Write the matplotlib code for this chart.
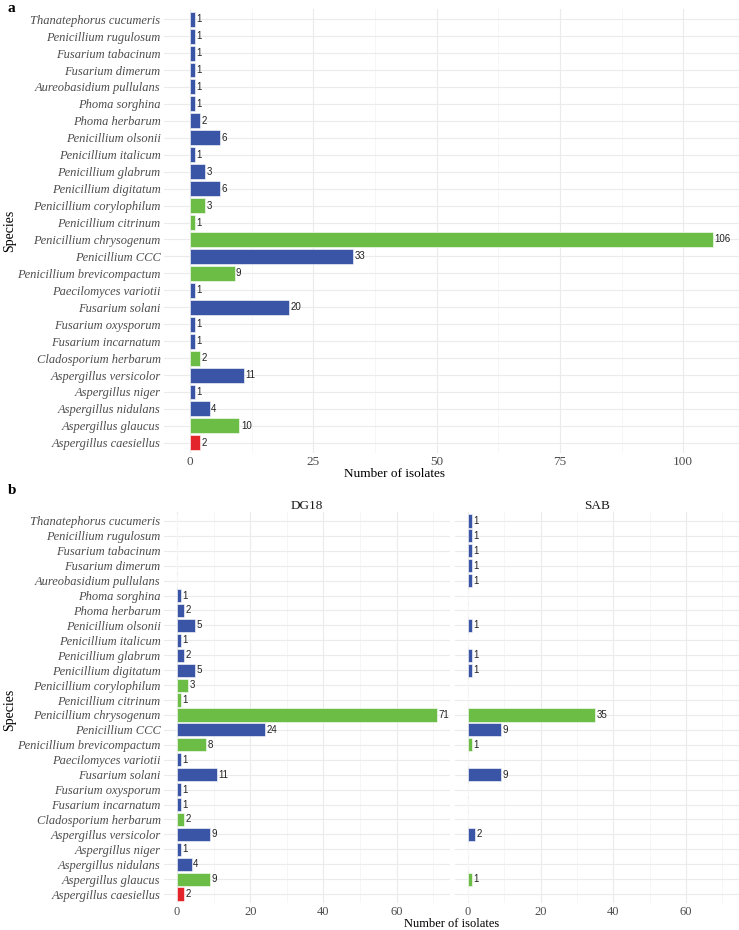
import matplotlib
matplotlib.use('Agg')
import matplotlib.pyplot as plt
from matplotlib.ticker import MultipleLocator

# species listed bottom -> top, as on the chart
species = ['Aspergillus caesiellus', 'Aspergillus glaucus', 'Aspergillus nidulans',
           'Aspergillus niger', 'Aspergillus versicolor', 'Cladosporium herbarum',
           'Fusarium incarnatum', 'Fusarium oxysporum', 'Fusarium solani',
           'Paecilomyces variotii', 'Penicillium brevicompactum', 'Penicillium CCC',
           'Penicillium chrysogenum', 'Penicillium citrinum', 'Penicillium corylophilum',
           'Penicillium digitatum', 'Penicillium glabrum', 'Penicillium italicum',
           'Penicillium olsonii', 'Phoma herbarum', 'Phoma sorghina',
           'Aureobasidium pullulans', 'Fusarium dimerum', 'Fusarium tabacinum',
           'Penicillium rugulosum', 'Thanatephorus cucumeris']
group = ['red', 'green', 'blue', 'blue', 'blue', 'green',
         'blue', 'blue', 'blue', 'blue', 'green', 'blue',
         'green', 'green', 'green', 'blue', 'blue', 'blue',
         'blue', 'blue', 'blue', 'blue', 'blue', 'blue',
         'blue', 'blue']
total = [2, 10, 4, 1, 11, 2, 1, 1, 20, 1, 9, 33, 106, 1, 3, 6, 3, 1, 6, 2, 1, 1, 1, 1, 1, 1]
dg18 = [2, 9, 4, 1, 9, 2, 1, 1, 11, 1, 8, 24, 71, 1, 3, 5, 2, 1, 5, 2, 1, 0, 0, 0, 0, 0]
sab = [0, 1, 0, 0, 2, 0, 0, 0, 9, 0, 1, 9, 35, 0, 0, 1, 1, 0, 1, 0, 0, 1, 1, 1, 1, 1]

palette = {'blue': '#3A54A6', 'green': '#6BBD45', 'red': '#E3242B'}
colors = [palette[g] for g in group]

serif = 'Liberation Serif'
W, H = 739, 930
fig = plt.figure(figsize=(W / 100, H / 100), dpi=100)


def px_axes(left, top, right, bottom):
    return fig.add_axes([left / W, 1 - bottom / H, (right - left) / W, (bottom - top) / H])


def draw(ax, values, xmax, major, show_labels, xsize=9.5):
    y = range(len(species))
    ax.barh(y, values, height=0.88, color=colors, edgecolor='#ffffff', linewidth=0.4, zorder=3)
    for yi, v in zip(y, values):
        if v > 0:
            ax.annotate(str(v), (v, yi), xytext=(1, 0), textcoords='offset points',
                        ha='left', va='center', fontsize=7, color='#222222',
                        family='Liberation Sans', zorder=4)
    ax.set_xlim(-xmax * 0.05, xmax * 1.05)
    ax.set_ylim(-0.6, len(species) - 0.4)
    ax.xaxis.set_major_locator(MultipleLocator(major))
    ax.xaxis.set_minor_locator(MultipleLocator(major / 2))
    ax.set_yticks(list(y))
    if show_labels:
        ax.set_yticklabels(species, fontstyle='italic', family=serif, fontsize=9, color='#4D4D4D')
    else:
        ax.set_yticklabels([])
    for lab in ax.get_xticklabels():
        lab.set_family(serif)
    ax.tick_params(axis='both', which='both', length=0, labelcolor='#4D4D4D', pad=2.5)
    ax.tick_params(axis='x', labelsize=xsize)
    ax.grid(which='major', color='#EBEBEB', linewidth=0.8, zorder=0)
    ax.grid(which='minor', axis='x', color='#F3F3F3', linewidth=0.5, zorder=0)
    for s in ax.spines.values():
        s.set_visible(False)


# panel a
ax_a = px_axes(164, 9, 739, 453)
draw(ax_a, total, 106, 25, True)
fig.text(395 / W, 1 - 474 / H, 'Number of isolates', family=serif, fontsize=9.5,
         ha='center', va='center')
fig.text(10 / W, 1 - 231 / H, 'Species', family=serif, fontsize=10, rotation=90,
         ha='center', va='center')
fig.text(8 / W, 1 - 8 / H, 'a', family=serif, fontsize=11, fontweight='bold',
         ha='left', va='center')

# panel b
ax_b1 = px_axes(164, 512, 450, 903)
draw(ax_b1, dg18, 71, 20, True, xsize=9)
ax_b2 = px_axes(455, 512, 739, 903)
draw(ax_b2, sab, 71, 20, False, xsize=9)
ax_b1.set_title('DG18', family=serif, fontsize=9.5, color='#1A1A1A', pad=2)
ax_b2.set_title('SAB', family=serif, fontsize=9.5, color='#1A1A1A', pad=2)
fig.text(452 / W, 1 - 930 / H, 'Number of isolates', family=serif, fontsize=9,
         ha='center', va='bottom')
fig.text(10 / W, 1 - 710 / H, 'Species', family=serif, fontsize=10, rotation=90,
         ha='center', va='center')
fig.text(8 / W, 1 - 490 / H, 'b', family=serif, fontsize=11, fontweight='bold',
         ha='left', va='center')

fig.savefig('out.png', dpi=100)
